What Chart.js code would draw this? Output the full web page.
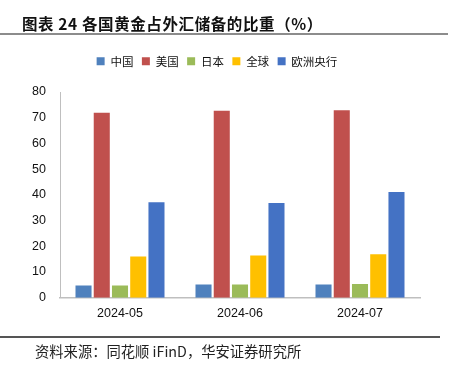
<!DOCTYPE html>
<html><head><meta charset="utf-8">
<script src="https://cdn.jsdelivr.net/npm/chart.js@4/dist/chart.umd.min.js"></script>
<style>
html,body{margin:0;padding:0;background:#fff;width:450px;height:375px;overflow:hidden;}
#title{position:absolute;left:22px;top:13px;font:bold 15.5px "Noto Sans CJK SC",sans-serif;color:#111;white-space:pre;line-height:20px;letter-spacing:0.6px;}
#tline{position:absolute;left:0;top:33px;width:448px;height:2px;background:#8c8c8c;}
#fline{position:absolute;left:0;top:336px;width:440px;height:1.5px;background:#555;}
#foot{position:absolute;left:35px;top:342px;font:14.3px "Noto Sans CJK SC",sans-serif;color:#222;white-space:nowrap;line-height:18px;}
#wrap{position:absolute;left:0;top:0;width:450px;height:375px;}
</style></head><body>
<div id="wrap"><canvas id="c" width="450" height="375"></canvas></div>
<div id="title">图表 24 各国黄金占外汇储备的比重（%）</div>
<div id="tline"></div>
<div id="fline"></div>
<div id="foot">资料来源：同花顺 iFinD，华安证券研究所</div>
<script>
const categories = ["2024-05","2024-06","2024-07"];
const seriesNames = ["中国","美国","日本","全球","欧洲央行"];
const china = [4.7, 5.1, 5.1];
const usa = [71.9, 72.7, 72.9];
const japan = [4.7, 5.1, 5.3];
const world = [16.0, 16.4, 16.9];
const ecb = [37.1, 36.8, 41.1];
const yTicks = [0,10,20,30,40,50,60,70,80];
const colors = ["#4F81BD","#C0504D","#9BBB59","#FFC000","#4472C4"];
const values = [china, usa, japan, world, ecb];

Chart.defaults.animation = false;
const legendMargin = {id:'legendMargin', beforeInit(chart){
  const orig = chart.legend.fit;
  chart.legend.fit = function(){ orig.bind(chart.legend)(); this.height += 15; };
}};
new Chart(document.getElementById('c'), {
  type: 'bar',
  data: {
    labels: categories,
    datasets: seriesNames.map((n,i)=>({label:n,data:values[i],backgroundColor:colors[i],borderWidth:0,
      categoryPercentage:0.76,barPercentage:0.88}))
  },
  options: {
    responsive:false,
    layout:{padding:{left:14,right:30,top:47,bottom:0}},
    plugins:{
      legend:{position:'top',labels:{boxWidth:8,boxHeight:8,padding:8.5,color:'#111',
        font:{family:'"Noto Sans CJK SC"',size:11.5}}},
      tooltip:{enabled:false}
    },
    scales:{
      x:{grid:{display:false,drawTicks:false},border:{color:'#bfbfbf',width:1.5},
        ticks:{color:'#111',padding:8,font:{family:'"Liberation Sans"',size:12.5}},
        afterFit(s){s.height=77.3;}},
      y:{min:0,max:80,grid:{display:false,drawTicks:false},border:{color:'#bfbfbf',width:1},
        afterBuildTicks(s){s.ticks=yTicks.map(v=>({value:v}));},
        ticks:{color:'#111',padding:14,font:{family:'"Liberation Sans"',size:12.5}},
        afterFit(s){s.width=46;}}
    }
  },
  plugins:[legendMargin]
});
</script>
</body></html>
